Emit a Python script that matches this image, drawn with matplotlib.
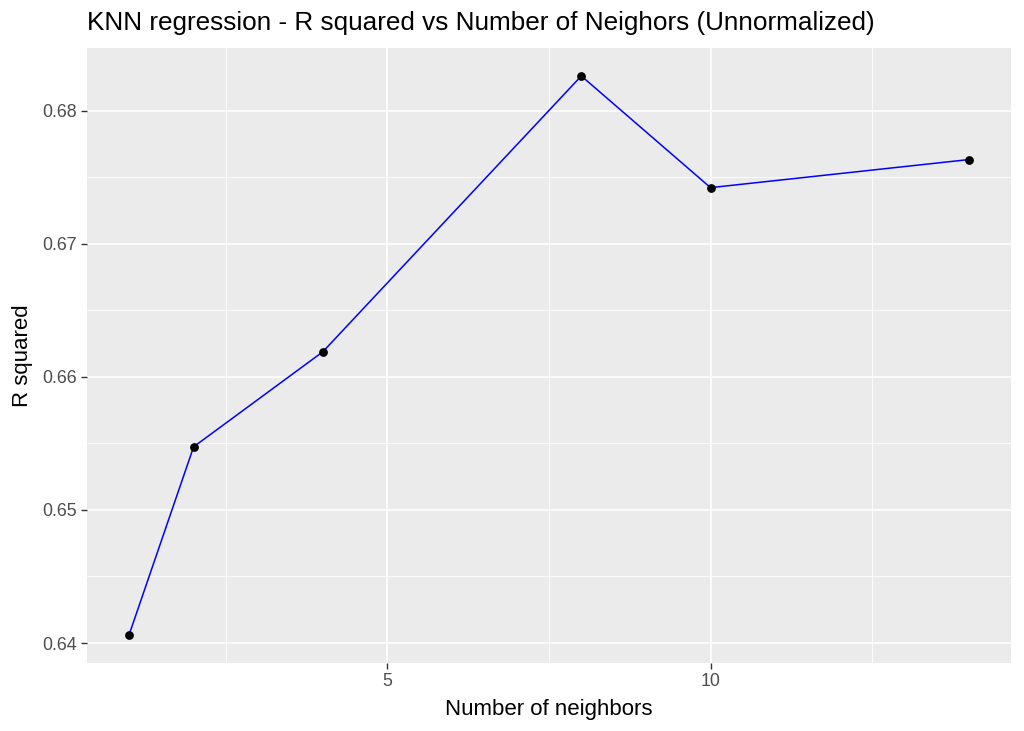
import numpy as np
import matplotlib
matplotlib.use("Agg")
import matplotlib.pyplot as plt
from matplotlib.ticker import MultipleLocator

# values
neighbors = [1, 2, 4, 8, 10, 14]
r_squared = [0.64060, 0.65474, 0.66188, 0.68260, 0.67421, 0.67632]

plt.rcParams["font.family"] = ["Liberation Sans", "DejaVu Sans"]

fig = plt.figure(figsize=(10.24, 7.31), dpi=100)
ax = fig.add_axes([87 / 1024, 68 / 731, 924 / 1024, 615 / 731])
ax.set_facecolor("#EBEBEB")

ax.plot(neighbors, r_squared, color="blue", lw=1.1, zorder=3)
ax.scatter(neighbors, r_squared, color="black", s=28, zorder=4)

# ggplot-like 5% expansion
xr = max(neighbors) - min(neighbors)
yr = max(r_squared) - min(r_squared)
ax.set_xlim(min(neighbors) - 0.05 * xr, max(neighbors) + 0.05 * xr)
ax.set_ylim(min(r_squared) - 0.05 * yr, max(r_squared) + 0.05 * yr)

ax.xaxis.set_major_locator(MultipleLocator(5))
ax.xaxis.set_minor_locator(MultipleLocator(2.5))
ax.yaxis.set_major_locator(MultipleLocator(0.01))
ax.yaxis.set_minor_locator(MultipleLocator(0.005))
ax.yaxis.set_major_formatter(plt.FuncFormatter(lambda v, p: f"{v:.2f}"))

ax.grid(which="major", color="white", lw=1.2)
ax.grid(which="minor", color="white", lw=0.6)
ax.set_axisbelow(True)
for s in ax.spines.values():
    s.set_visible(False)

ax.tick_params(which="major", length=4, width=1.0, color="#333333",
               labelcolor="#4D4D4D", labelsize=12.8, pad=3)
ax.tick_params(which="minor", length=0)

ax.set_xlabel("Number of neighbors", fontsize=16, color="black", labelpad=7)
ax.set_ylabel("R squared", fontsize=16, color="black", labelpad=7)
ax.set_title("KNN regression - R squared vs Number of Neighors (Unnormalized)",
             loc="left", fontsize=18.8, color="black", pad=13)

fig.savefig("out.png", dpi=100)
